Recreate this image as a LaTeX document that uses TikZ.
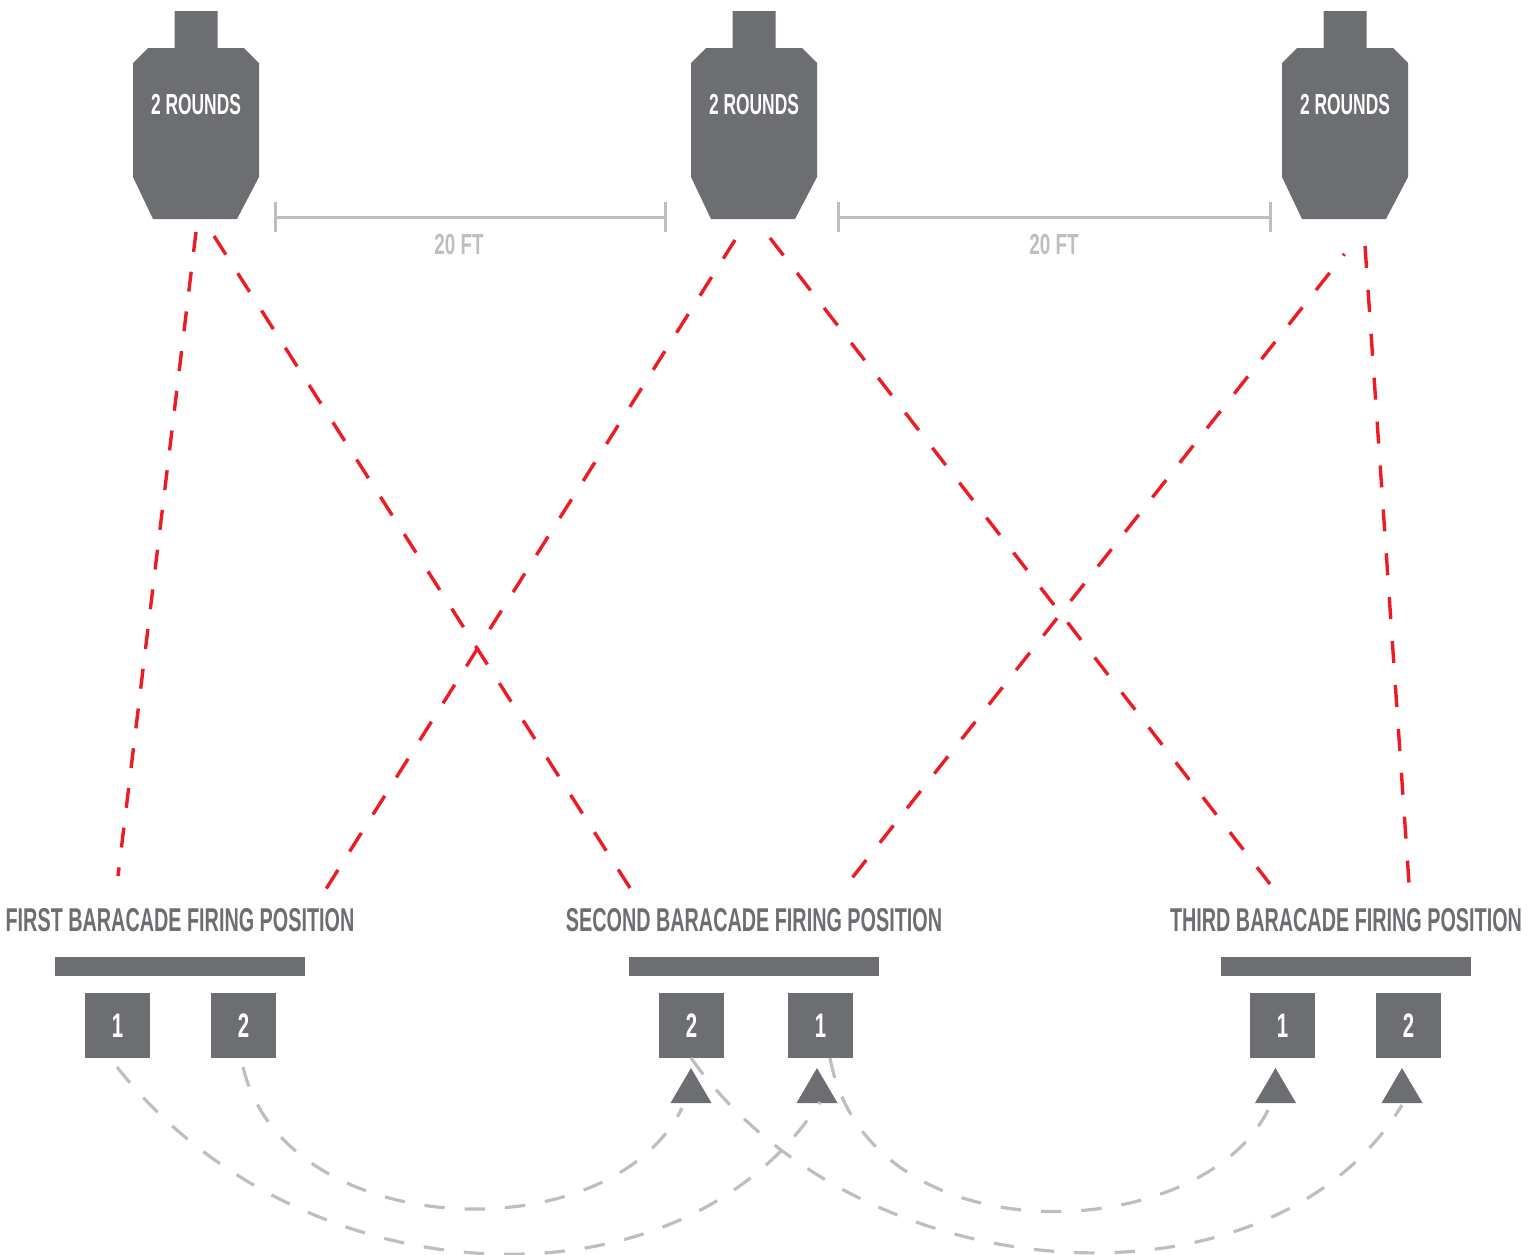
\documentclass[tikz,border=0pt]{standalone}
\usepackage{fontspec}
\setmainfont[FakeStretch=0.6]{Liberation Sans}
\newfontfamily\spanfont[FakeStretch=0.65]{Liberation Sans}
\usepackage{tikz}

\definecolor{targetgrey}{HTML}{6D6E71}
\definecolor{pathgrey}{HTML}{BCBEC0}
\definecolor{shotred}{HTML}{ED1C24}

\begin{document}
\begin{tikzpicture}[x=0.5pt,y=-0.5pt]
    \tikzstyle{target}=[fill=targetgrey]
    \tikzstyle{roundslabel}=[text=white,font=\bfseries\fontsize{14.5}{14.5}\selectfont,inner sep=0pt]
    \tikzstyle{poslabel}=[text=targetgrey,font=\bfseries\fontsize{16.5}{16.5}\selectfont,inner sep=0pt]
    \tikzstyle{barricade}=[fill=targetgrey,minimum width=125pt,minimum height=9.5pt,inner sep=0pt]
    \tikzstyle{spot}=[fill=targetgrey,text=white,minimum size=32.5pt,inner sep=0pt,font=\bfseries\fontsize{17}{17}\selectfont]
    \tikzstyle{marker}=[fill=targetgrey]
    \tikzstyle{shot}=[draw=shotred,line width=1.7pt]
    \tikzstyle{move}=[draw=pathgrey,line width=1.6pt,dash pattern=on 10.2pt off 10pt]
    \tikzstyle{span}=[draw=pathgrey,line width=1.5pt]
    \tikzstyle{spanlabel}=[text=pathgrey,font=\spanfont\bfseries\fontsize{14.5}{14.5}\selectfont,inner sep=0pt]

    \useasboundingbox (0,0) rectangle (1537,1254);

    % targets
    \foreach \num/\x in {1/196, 2/754, 3/1345}{
        \fill[target] (\x-21.5,11) -- (\x+21.5,11) -- (\x+21.5,48) -- (\x+48,48) -- (\x+63,63)
            -- (\x+63,177) -- (\x+41,219) -- (\x-43,219) -- (\x-63,177) -- (\x-63,63) -- (\x-48,48)
            -- (\x-21.5,48) -- cycle;
        \node[roundslabel] (T-\num) at (\x,105) {2 ROUNDS};
    }

    % firing positions
    \node[poslabel] (P-1) at (180,920) {FIRST BARACADE FIRING POSITION};
    \node[poslabel] (P-2) at (754,920) {SECOND BARACADE FIRING POSITION};
    \node[poslabel] (P-3) at (1346,920) {THIRD BARACADE FIRING POSITION};
    \foreach \num/\x in {1/180, 2/754, 3/1346}
        \node[barricade] (B-\num) at (\x,966) {};

    \foreach \name/\txt/\x in {a1/1/117.5, a2/2/243.5, b2/2/691.5, b1/1/820.5, c1/1/1282.5, c2/2/1408.5}
        \node[spot] (S-\name) at (\x,1025.5) {\txt};

    \foreach \name/\x in {b2/691, b1/817, c1/1275.5, c2/1402}
        \fill[marker] (\x,1068) -- (\x+20.5,1103) -- (\x-20.5,1103) -- cycle;

    % 20 ft spans
    \coordinate (D-1) at (275,217);
    \coordinate (D-2) at (665,217);
    \coordinate (D-3) at (838,217);
    \coordinate (D-4) at (1270,217);
    \foreach \from/\to in {1/2, 3/4}{
        \draw[span] (D-\from) -- (D-\to);
        \draw[span] ([yshift=7.5pt]D-\from) -- ([yshift=-7.5pt]D-\from);
        \draw[span] ([yshift=7.5pt]D-\to) -- ([yshift=-7.5pt]D-\to);
    }
    \node[spanlabel] (L-1) at (459,245) {20 FT};
    \node[spanlabel] (L-2) at (1054,245) {20 FT};

    % lines of fire
    \coordinate (R-1) at (196,232);
    \coordinate (R-2) at (118,876);
    \coordinate (R-3) at (214,236);
    \coordinate (R-4) at (630,888);
    \coordinate (R-5) at (735,240);
    \coordinate (R-6) at (326,889);
    \coordinate (R-7) at (770,238);
    \coordinate (R-8) at (1270,884);
    \coordinate (R-9) at (1344.5,254);
    \coordinate (R-10) at (852,878);
    \coordinate (R-11) at (1365,246);
    \coordinate (R-12) at (1409,883);
    \foreach \from/\to/\on/\off/\ph in {1/2/10/10/0, 3/4/11/11.1/0, 5/6/11/10.9/0, 7/8/11/11.1/0, 9/10/11/11/10, 11/12/11/11/0}
        \draw[shot,dash pattern=on \on pt off \off pt,dash phase=\ph pt] (R-\from) -- (R-\to);

    % moves between positions
    \coordinate (M-1) at (117,1067);
    \coordinate (M-2) at (820,1102);
    \coordinate (M-3) at (243,1067);
    \coordinate (M-4) at (682,1108);
    \coordinate (M-5) at (691,1058);
    \coordinate (M-6) at (1402,1105);
    \coordinate (M-7) at (830,1058);
    \coordinate (M-8) at (1268,1110);
    \draw[move] (M-3) .. controls (285,1243) and (610,1254) .. (M-4);
    \draw[move] (M-1) .. controls (300,1300) and (680,1320) .. (M-2);
    \draw[move] (M-5) .. controls (860,1295) and (1270,1322) .. (M-6);
    \draw[move] (M-7) .. controls (868,1260) and (1200,1247) .. (M-8);
\end{tikzpicture}
\end{document}
